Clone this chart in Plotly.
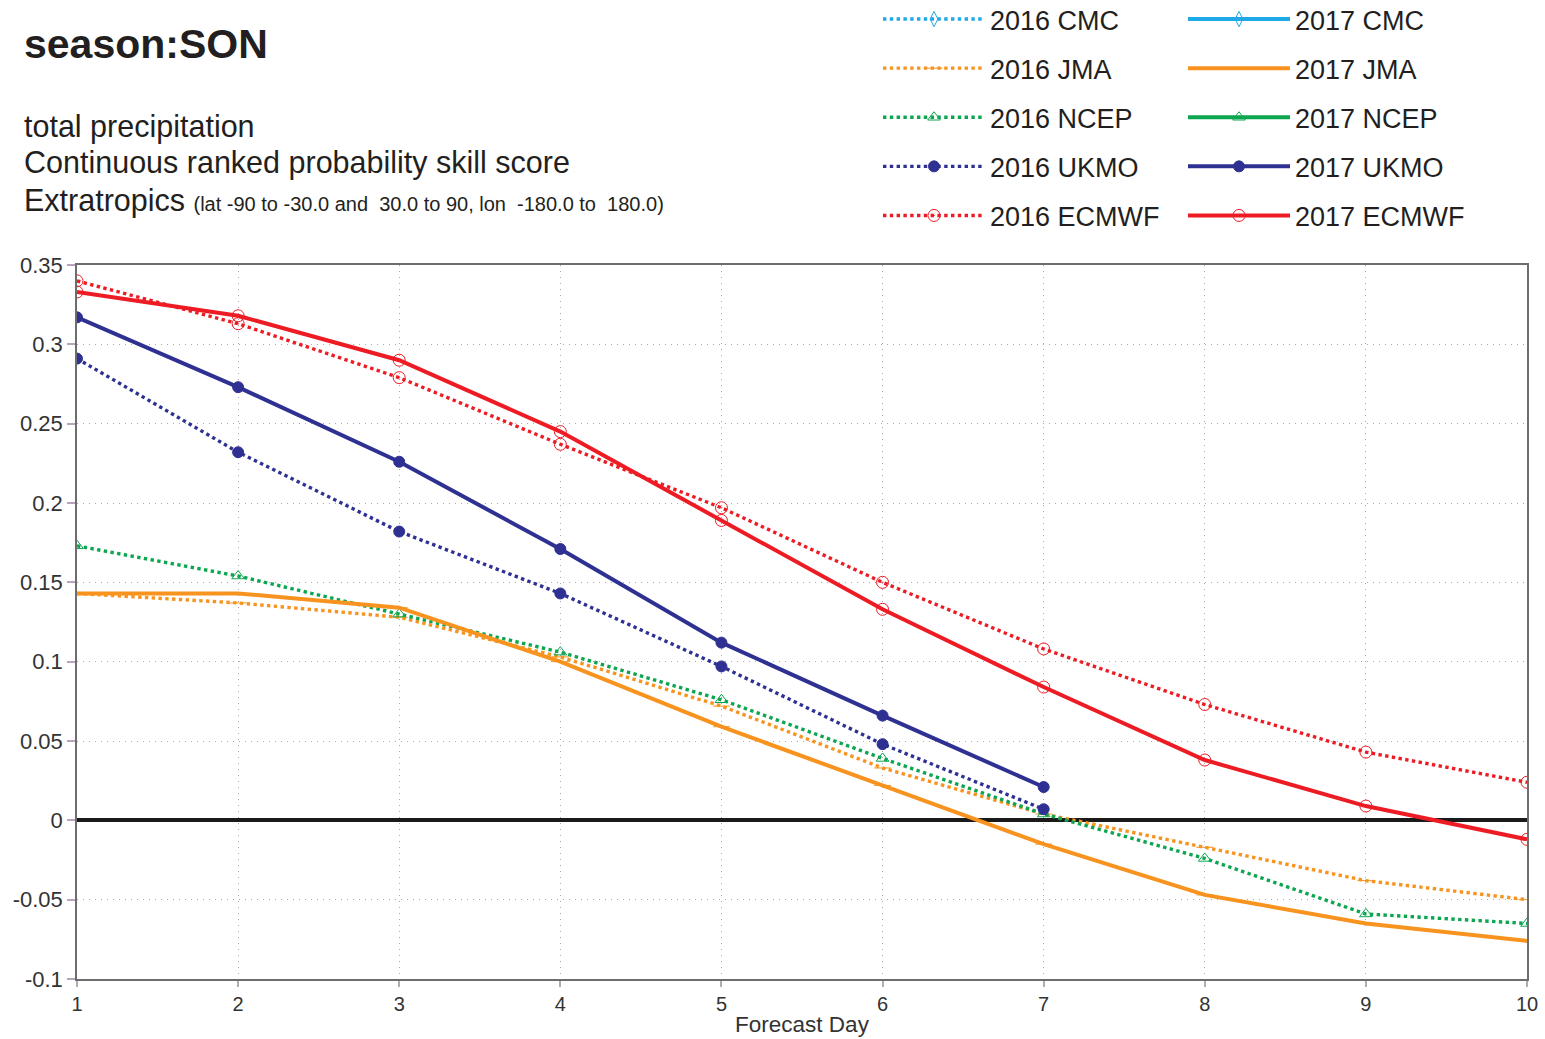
import plotly.graph_objects as go

# ---- data ----
days = [1, 2, 3, 4, 5, 6, 7, 8, 9, 10]

cmc_2016 = []
cmc_2017 = []
jma_2016 = [0.143, 0.137, 0.128, 0.103, 0.072, 0.033, 0.004, -0.017, -0.038, -0.050]
jma_2017 = [0.143, 0.143, 0.134, 0.100, 0.059, 0.022, -0.015, -0.047, -0.065, -0.076]
ncep_2016 = [0.173, 0.154, 0.130, 0.106, 0.076, 0.039, 0.004, -0.024, -0.059, -0.065]
ncep_2017 = []
ukmo_2016 = [0.291, 0.232, 0.182, 0.143, 0.097, 0.048, 0.007]
ukmo_2017 = [0.317, 0.273, 0.226, 0.171, 0.112, 0.066, 0.021]
ecmwf_2016 = [0.340, 0.313, 0.279, 0.237, 0.197, 0.150, 0.108, 0.073, 0.043, 0.024]
ecmwf_2017 = [0.333, 0.318, 0.290, 0.245, 0.189, 0.133, 0.084, 0.038, 0.009, -0.012]

y_tickvals = [-0.1, -0.05, 0, 0.05, 0.1, 0.15, 0.2, 0.25, 0.3, 0.35]
y_ticktext = ["-0.1", "-0.05", "0", "0.05", "0.1", "0.15", "0.2", "0.25", "0.3", "0.35"]

FONT = "Liberation Sans, Arial, Helvetica, sans-serif"

models = [
    ("CMC", cmc_2016, cmc_2017, "#1fa9e6", "diamond-tall-open", 11),
    ("JMA", jma_2016, jma_2017, "#f7931e", "line-ew-open", 12),
    ("NCEP", ncep_2016, ncep_2017, "#0da650", "triangle-up-open", 11),
    ("UKMO", ukmo_2016, ukmo_2017, "#2e3192", "circle", 11),
    ("ECMWF", ecmwf_2016, ecmwf_2017, "#ed1c24", "circle-open-dot", 12),
]

fig = go.Figure()
for name, v16, v17, col, sym, sz in models:
    fig.add_trace(go.Scatter(
        x=days[:len(v16)] if v16 else [None], y=v16 if v16 else [None],
        mode="lines+markers", name="2016 " + name,
        line=dict(color=col, width=3.4, dash="dot"),
        marker=dict(symbol=sym, size=sz, color=col, line=dict(color=col, width=1)),
        legend="legend", legendgroup="a" + name,
    ))
for name, v16, v17, col, sym, sz in models:
    fig.add_trace(go.Scatter(
        x=days[:len(v17)] if v17 else [None], y=v17 if v17 else [None],
        mode="lines+markers", name="2017 " + name,
        line=dict(color=col, width=4),
        marker=dict(symbol=sym, size=sz, color=col, line=dict(color=col, width=1)),
        legend="legend2", legendgroup="b" + name,
    ))

legend_common = dict(
    orientation="v", xanchor="left", yanchor="top",
    font=dict(family=FONT, size=27, color="#231f20"),
    bgcolor="rgba(0,0,0,0)", borderwidth=0,
    itemwidth=102, tracegroupgap=11, itemclick=False,
)

fig.update_layout(
    width=1545, height=1039,
    margin=dict(l=77, r=18, t=265, b=60, autoexpand=False),
    paper_bgcolor="white", plot_bgcolor="white",
    font=dict(family=FONT, color="#231f20"),
    showlegend=True,
    legend=dict(x=(878 - 77) / 1450, y=(979 + 5) / 714, **legend_common),
    legend2=dict(x=(1183 - 77) / 1450, y=(979 + 5) / 714, **legend_common),
    xaxis=dict(
        range=[1, 10], tickvals=days, ticktext=[str(d) for d in days],
        showgrid=True, gridcolor="#b3a2bb", griddash="1px,5px", gridwidth=1.2,
        showline=True, linecolor="#6d6d6d", linewidth=1.5, mirror=True,
        ticks="outside", ticklen=6, tickcolor="#b7a6bb", tickwidth=2,
        tickfont=dict(family=FONT, size=20, color="#333333"),
        zeroline=False, automargin=False,
        title=dict(text="Forecast Day", font=dict(family=FONT, size=22.5, color="#333333"), standoff=2),
    ),
    yaxis=dict(
        range=[-0.1, 0.35], tickvals=y_tickvals, ticktext=y_ticktext,
        showgrid=True, gridcolor="#b3a2bb", griddash="1px,5px", gridwidth=1.2,
        showline=True, linecolor="#6d6d6d", linewidth=1.5, mirror=True,
        ticks="outside", ticklen=8, tickcolor="#b7a6bb", tickwidth=2,
        tickfont=dict(family=FONT, size=22, color="#333333"),
        zeroline=True, zerolinecolor="#1a1a1a", zerolinewidth=3.5, automargin=False,
    ),
)

def px_x(p):
    return (p - 77) / 1450

def px_y(p):
    return (979 - p) / 714

fig.add_annotation(
    text="<b>season:SON</b>", xref="paper", yref="paper",
    x=px_x(22), y=px_y(44), xanchor="left", yanchor="middle",
    showarrow=False, font=dict(family=FONT, size=41, color="#231f20"),
)
for txt, yy in [("total precipitation", 126),
                ("Continuous ranked probability skill score", 162),
                ("Extratropics <span style='font-size:20px'>(lat -90 to -30.0 and  30.0 to 90, lon  -180.0 to  180.0)</span>", 200)]:
    fig.add_annotation(
        text=txt, xref="paper", yref="paper",
        x=px_x(22), y=px_y(yy), xanchor="left", yanchor="middle",
        showarrow=False, font=dict(family=FONT, size=30.5, color="#231f20"),
    )

fig.write_html("out.html")
